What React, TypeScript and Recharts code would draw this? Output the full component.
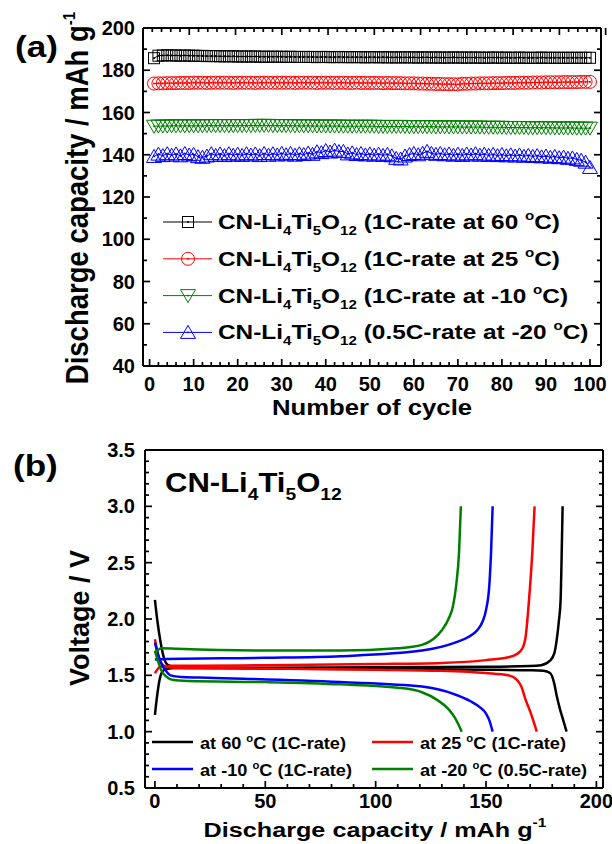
import React from "react";
import { LineChart, Line, XAxis, YAxis, Legend, Customized } from "recharts";

const FONT = "'Liberation Sans', Arial, Helvetica, sans-serif";
const SX = 1.17; // the figure is stretched a bit horizontally

// ---------- panel (a): cycling ----------
const cycles = Array.from({ length: 100 }, (_, i) => i + 1);

const cap60 = [
  185.7, 186.9, 187.0, 187.1, 187.0, 187.0, 186.9, 187.0, 186.9, 186.9,
  186.8, 186.8, 186.7, 186.7, 186.7, 186.6, 186.6, 186.6, 186.6, 186.5,
  186.5, 186.5, 186.5, 186.5, 186.4, 186.4, 186.4, 186.4, 186.4, 186.4,
  186.3, 186.4, 186.3, 186.3, 186.3, 186.3, 186.3, 186.2, 186.3, 186.3,
  186.2, 186.2, 186.3, 186.2, 186.2, 186.2, 186.2, 186.2, 186.1, 186.2,
  186.2, 186.1, 186.2, 186.1, 186.1, 186.1, 186.1, 186.1, 186.1, 186.1,
  186.0, 186.1, 186.1, 186.0, 186.1, 186.0, 186.0, 186.0, 186.1, 186.0,
  186.0, 186.0, 186.0, 186.0, 186.0, 185.9, 186.0, 186.0, 186.0, 185.9,
  186.0, 185.9, 185.9, 186.0, 185.9, 185.9, 185.9, 185.9, 186.0, 185.9,
  185.9, 185.9, 185.9, 185.9, 185.9, 185.9, 185.9, 185.9, 185.9, 185.9,
];

const cap25 = [
  173.7, 173.8, 173.8, 173.9, 173.9, 173.9, 174.0, 174.0, 174.0, 174.1,
  174.1, 174.1, 174.0, 174.1, 174.1, 174.1, 174.1, 174.1, 174.0, 174.1,
  174.1, 174.1, 174.1, 174.0, 174.1, 174.1, 174.1, 174.1, 174.1, 174.1,
  174.1, 174.1, 174.0, 174.1, 174.1, 174.1, 174.1, 174.0, 174.1, 174.1,
  174.1, 174.0, 174.1, 174.1, 174.0, 174.0, 174.1, 174.0, 174.0, 174.0,
  174.0, 174.0, 173.9, 174.0, 173.9, 173.9, 173.9, 173.8, 173.8, 173.8,
  173.7, 173.7, 173.6, 173.6, 173.5, 173.5, 173.4, 173.4, 173.4, 173.3,
  173.6, 173.6, 173.7, 173.7, 173.8, 173.8, 173.8, 173.9, 173.9, 173.9,
  174.0, 174.0, 174.0, 174.1, 174.1, 174.1, 174.2, 174.2, 174.2, 174.3,
  174.3, 174.3, 174.3, 174.4, 174.4, 174.4, 174.4, 174.5, 174.5, 174.5,
];

const capM10 = [
  153.5, 153.6, 153.6, 153.6, 153.7, 153.7, 153.7, 153.7, 153.7, 153.7,
  153.7, 153.7, 153.8, 153.8, 153.8, 153.8, 153.8, 153.8, 153.8, 153.8,
  153.8, 153.8, 153.8, 153.9, 153.9, 153.9, 153.9, 153.8, 153.8, 153.8,
  153.8, 153.8, 153.7, 153.7, 153.7, 153.7, 153.7, 153.6, 153.6, 153.6,
  153.6, 153.6, 153.6, 153.5, 153.5, 153.5, 153.5, 153.5, 153.5, 153.5,
  153.5, 153.4, 153.4, 153.4, 153.4, 153.4, 153.4, 153.4, 153.3, 153.3,
  153.3, 153.3, 153.3, 153.3, 153.2, 153.2, 153.2, 153.2, 153.2, 153.2,
  153.1, 153.1, 153.1, 153.1, 153.1, 153.0, 153.0, 153.0, 153.0, 153.0,
  152.9, 152.9, 152.9, 152.9, 152.9, 152.8, 152.8, 152.8, 152.8, 152.8,
  152.8, 152.7, 152.7, 152.7, 152.7, 152.7, 152.6, 152.6, 152.6, 152.6,
];

const capM20 = [
  139.2, 140.3, 139.6, 140.5, 139.8, 140.4, 139.5, 140.6, 139.9, 140.2,
  139.1, 138.8, 139.4, 140.5, 139.7, 140.4, 139.6, 140.5, 139.8, 140.3,
  139.7, 140.5, 139.9, 140.4, 139.6, 140.6, 139.8, 140.5, 139.9, 140.7,
  140.0, 140.6, 139.8, 140.5, 140.1, 140.8, 140.2, 141.4, 141.0, 142.0,
  141.3, 142.2, 141.5, 141.6, 140.4, 140.9, 140.1, 140.6, 139.9, 140.4,
  139.8, 140.3, 139.7, 140.2, 139.5, 138.3, 138.0, 139.4, 140.1, 140.6,
  140.0, 140.7, 141.6, 140.7, 140.2, 140.6, 140.0, 140.4, 139.8, 140.3,
  139.7, 140.4, 139.9, 140.5, 139.8, 140.3, 139.7, 140.2, 139.6, 140.1,
  139.5, 140.0, 139.4, 139.9, 139.3, 139.7, 139.2, 139.6, 139.0, 139.4,
  138.8, 139.2, 138.6, 138.9, 138.3, 138.5, 137.8, 137.4, 136.5, 134.0,
];

const xMajorA = [0, 10, 20, 30, 40, 50, 60, 70, 80, 90, 100];
const yMajorA = [40, 60, 80, 100, 120, 140, 160, 180, 200];
const xTicksA = Array.from({ length: 51 }, (_, i) => i * 2);
const yTicksA = Array.from({ length: 17 }, (_, i) => 40 + i * 10);

const seriesA = [
  { key: "s60", color: "#000000", shape: "square", temp: "60", rate: "1C" },
  { key: "s25", color: "#ff0000", shape: "circle", temp: "25", rate: "1C" },
  { key: "sm10", color: "#008000", shape: "down", temp: "-10", rate: "1C" },
  { key: "sm20", color: "#0000ff", shape: "up", temp: "-20", rate: "0.5C" },
];

const rowsA = cycles.map((c, i) => ({
  cycle: c,
  s60: cap60[i],
  s25: cap25[i],
  sm10: capM10[i],
  sm20: capM20[i],
}));

// ---------- panel (b): discharge/charge profiles [capacity, voltage] ----------
const dis60 = [[0, 2.17], [1, 2.0], [2.5, 1.8], [4, 1.66], [6, 1.59], [10, 1.57], [20, 1.565], [50, 1.56], [100, 1.555], [150, 1.55], [170, 1.545], [176, 1.54], [179, 1.52], [181, 1.42], [182, 1.32], [183.5, 1.2], [185, 1.1], [186.5, 1.0]];
const chg60 = [[0, 1.15], [1, 1.32], [2, 1.45], [3, 1.52], [5, 1.555], [10, 1.565], [50, 1.568], [100, 1.572], [150, 1.576], [170, 1.582], [175, 1.59], [179, 1.63], [181, 1.7], [182, 1.81], [183, 1.98], [183.8, 2.17], [184.2, 2.5], [184.7, 3.0]];
const dis25 = [[0, 1.82], [1, 1.72], [2.5, 1.62], [5, 1.575], [10, 1.565], [50, 1.56], [100, 1.55], [130, 1.54], [150, 1.52], [160, 1.5], [164, 1.46], [166, 1.4], [168, 1.28], [170, 1.18], [173, 1.0]];
const chg25 = [[0, 1.52], [1, 1.55], [2, 1.57], [4, 1.58], [8, 1.585], [20, 1.585], [50, 1.59], [100, 1.6], [130, 1.61], [150, 1.635], [160, 1.66], [164, 1.69], [166.5, 1.74], [168, 1.85], [169, 2.05], [170, 2.3], [171, 2.6], [172, 3.0]];
const disM10 = [[0, 1.79], [1.5, 1.68], [3, 1.6], [5, 1.54], [7, 1.5], [12, 1.485], [20, 1.48], [40, 1.47], [84, 1.44], [121, 1.4], [136, 1.33], [143, 1.27], [147, 1.22], [150, 1.16], [151.5, 1.1], [153, 1.0]];
const chgM10 = [[0, 1.64], [5, 1.645], [50, 1.655], [84, 1.67], [121, 1.72], [136, 1.79], [142, 1.84], [146, 1.9], [148.5, 1.98], [150, 2.08], [151.5, 2.3], [152.3, 2.6], [153, 3.0]];
const disM20 = [[0, 1.72], [1.5, 1.62], [3, 1.54], [5, 1.49], [8, 1.46], [15, 1.45], [50, 1.44], [84, 1.42], [110, 1.39], [121, 1.35], [128, 1.28], [133, 1.2], [136, 1.12], [139, 1.0]];
const chgM20 = [[0, 1.7], [3, 1.74], [10, 1.735], [50, 1.72], [84, 1.72], [110, 1.74], [121, 1.77], [126, 1.82], [130, 1.9], [133, 2.0], [135, 2.11], [136.5, 2.3], [137.8, 2.6], [138.6, 3.0]];

const curvesB = [
  { id: "d60", pts: dis60, color: "#000000" },
  { id: "c60", pts: chg60, color: "#000000" },
  { id: "d25", pts: dis25, color: "#ff0000" },
  { id: "c25", pts: chg25, color: "#ff0000" },
  { id: "dm10", pts: disM10, color: "#0000ff" },
  { id: "cm10", pts: chgM10, color: "#0000ff" },
  { id: "dm20", pts: disM20, color: "#008000" },
  { id: "cm20", pts: chgM20, color: "#008000" },
];

const legendB = [
  { label: "60", rate: "1C", color: "#000000" },
  { label: "25", rate: "1C", color: "#ff0000" },
  { label: "-10", rate: "1C", color: "#0000ff" },
  { label: "-20", rate: "0.5C", color: "#008000" },
];

const xMajorB = [0, 50, 100, 150, 200];
const yMajorB = [0.5, 1.0, 1.5, 2.0, 2.5, 3.0, 3.5];
const xTicksB = Array.from({ length: 21 }, (_, i) => i * 10);
const yTicksB = Array.from({ length: 31 }, (_, i) => Math.round((0.5 + i * 0.1) * 10) / 10);

// ---------- helpers ----------
type Side = "bottom" | "top" | "left" | "right";
const TICK_FS = 20;

function makeTick(side: Side, majors: number[], showLabel: boolean, fmt: (v: number) => string, lblOff: number) {
  return (props: any) => {
    const { x, y, payload } = props;
    const v = payload.value as number;
    const major = majors.some((m) => Math.abs(m - v) < 1e-6);
    const len = major ? 7 : 4;
    let l = { x1: x, y1: y, x2: x, y2: y };
    if (side === "bottom") l.y2 = y - len;
    if (side === "top") l.y2 = y + len;
    if (side === "left") l.x2 = x + len;
    if (side === "right") l.x2 = x - len;
    return (
      <g>
        <line {...l} stroke="#000" strokeWidth={1.7} />
        {showLabel && major && side === "bottom" && (
          <text x={x} y={y + lblOff} textAnchor="middle" fontFamily={FONT} fontWeight="bold" fontSize={TICK_FS} fill="#000">
            {fmt(v)}
          </text>
        )}
        {showLabel && major && side === "left" && (
          <text x={x - lblOff} y={y + 7} textAnchor="end" fontFamily={FONT} fontWeight="bold" fontSize={TICK_FS} fill="#000">
            {fmt(v)}
          </text>
        )}
      </g>
    );
  };
}

function SText({ x, y, fs, anchor = "start", sx = SX, children }: any) {
  return (
    <text
      transform={`translate(${x} ${y}) scale(${sx} 1)`}
      textAnchor={anchor}
      fontFamily={FONT}
      fontWeight="bold"
      fontSize={fs}
      fill="#000"
      style={{ whiteSpace: "pre" }}
    >
      {children}
    </text>
  );
}

function LTO({ fs }: { fs: number }) {
  const sub = fs * 0.62;
  const d = fs * 0.3;
  return (
    <>
      <tspan>CN-Li</tspan>
      <tspan fontSize={sub} dy={d}>4</tspan>
      <tspan dy={-d}>Ti</tspan>
      <tspan fontSize={sub} dy={d}>5</tspan>
      <tspan dy={-d}>O</tspan>
      <tspan fontSize={sub} dy={d}>12</tspan>
    </>
  );
}

function Marker({ cx, cy, shape, color }: any) {
  if (cx == null || cy == null) return null;
  let body;
  if (shape === "square") body = <rect x={cx - 5.5} y={cy - 5.5} width={11} height={11} />;
  else if (shape === "circle") body = <circle cx={cx} cy={cy} r={6.5} />;
  else if (shape === "down") body = <polygon points={`${cx - 7.5},${cy - 6} ${cx + 7.5},${cy - 6} ${cx},${cy + 7}`} />;
  else body = <polygon points={`${cx - 7.5},${cy + 6} ${cx + 7.5},${cy + 6} ${cx},${cy - 7}`} />;
  return (
    <g stroke={color} strokeWidth={1} fill="none">
      {body}
      <circle cx={cx} cy={cy} r={0.6} fill={color} />
    </g>
  );
}

const axisLine = { stroke: "#000", strokeWidth: 2 };

// ---------- panel (a) ----------
function TitlesA() {
  return (
    <g>
      <SText x={15} y={57} fs={30}>(a)</SText>
      <SText x={372} y={415} fs={22} anchor="middle">Number of cycle</SText>
      <text
        transform="translate(88 198) rotate(-90) scale(1 1.15)"
        textAnchor="middle"
        fontFamily={FONT}
        fontWeight="bold"
        fontSize={27.5}
        style={{ whiteSpace: "pre" }}
      >
        Discharge capacity / mAh g<tspan fontSize={15} dy={-11}>-1</tspan>
      </text>
    </g>
  );
}

function LegendA() {
  const fs = 20;
  const sub = fs * 0.62;
  return (
    <svg width={450} height={150} style={{ overflow: "visible" }}>
      {seriesA.map((s, i) => {
        const base = 24 + i * 36.8;
        const ly = base - 7;
        return (
          <g key={s.key}>
            <line x1={3} x2={52} y1={ly} y2={ly} stroke={s.color} strokeWidth={1} />
            <Marker cx={28} cy={ly} shape={s.shape} color={s.color} />
            <SText x={58} y={base} fs={fs} sx={1.22}>
              <LTO fs={fs} />
              <tspan dy={-fs * 0.3}>{` (${s.rate}-rate at ${s.temp} `}</tspan>
              <tspan fontSize={sub} dy={-fs * 0.45}>o</tspan>
              <tspan dy={fs * 0.45}>C)</tspan>
            </SText>
          </g>
        );
      })}
    </svg>
  );
}

function ChartA() {
  return (
    <LineChart width={612} height={425} data={rowsA} margin={{ top: 26, right: 9, bottom: 29, left: 83 }}>
      <XAxis
        dataKey="cycle"
        type="number"
        domain={[-1.5, 102.5]}
        allowDataOverflow
        ticks={xTicksA}
        interval={0}
        tickSize={0}
        tickMargin={0}
        tickLine={false}
        height={30}
        axisLine={axisLine}
        tick={makeTick("bottom", xMajorA, true, (v) => String(v), 25)}
      />
      <XAxis
        xAxisId="top"
        orientation="top"
        type="number"
        domain={[-1.5, 102.5]}
        allowDataOverflow
        ticks={xTicksA}
        interval={0}
        tickSize={0}
        tickMargin={0}
        tickLine={false}
        height={2}
        axisLine={axisLine}
        tick={makeTick("top", xMajorA, false, String, 0)}
      />
      <YAxis
        type="number"
        domain={[40, 200]}
        allowDataOverflow
        ticks={yTicksA}
        interval={0}
        tickSize={0}
        tickMargin={0}
        tickLine={false}
        width={60}
        axisLine={axisLine}
        tick={makeTick("left", yMajorA, true, (v) => String(v), 8)}
      />
      <YAxis
        yAxisId="right"
        orientation="right"
        type="number"
        domain={[40, 200]}
        allowDataOverflow
        ticks={yTicksA}
        interval={0}
        tickSize={0}
        tickMargin={0}
        tickLine={false}
        width={2}
        axisLine={axisLine}
        tick={makeTick("right", yMajorA, false, String, 0)}
      />
      {seriesA.map((s) => (
        <Line
          key={s.key}
          dataKey={s.key}
          stroke={s.color}
          strokeWidth={1}
          isAnimationActive={false}
          activeDot={false}
          dot={(p: any) => <Marker key={`${s.key}-${p.index}`} cx={p.cx} cy={p.cy} shape={s.shape} color={s.color} />}
        />
      ))}
      <Legend
        layout="vertical"
        align="center"
        verticalAlign="middle"
        wrapperStyle={{ left: 160, top: 205, width: 450, height: 150 }}
        content={() => <LegendA />}
      />
      <Customized component={TitlesA} />
    </LineChart>
  );
}

// ---------- panel (b) ----------
function TitlesB() {
  return (
    <g>
      <SText x={13} y={56} fs={30}>(b)</SText>
      <SText x={165} y={72} fs={27} sx={1.15}>
        <LTO fs={27} />
      </SText>
      <SText x={375} y={417} fs={21} anchor="middle" sx={1.2}>
        Discharge capacity / mAh g<tspan fontSize={13} dy={-10}>-1</tspan>
      </SText>
      <text
        transform="translate(89 198) rotate(-90)"
        textAnchor="middle"
        fontFamily={FONT}
        fontWeight="bold"
        fontSize={27}
        style={{ whiteSpace: "pre" }}
      >
        Voltage / V
      </text>
    </g>
  );
}

function LegendB() {
  const fs = 16.5;
  const sub = fs * 0.62;
  return (
    <svg width={460} height={60} style={{ overflow: "visible" }}>
      {legendB.map((s, i) => {
        const col = i % 2;
        const row = Math.floor(i / 2);
        const x0 = col === 0 ? 7 : 227;
        const base = 19 + row * 27;
        return (
          <g key={s.label}>
            <line x1={x0} x2={x0 + 41} y1={base - 7} y2={base - 7} stroke={s.color} strokeWidth={2.5} />
            <SText x={x0 + 48} y={base} fs={fs} sx={1.1}>
              {`at ${s.label} `}
              <tspan fontSize={sub} dy={-fs * 0.45}>o</tspan>
              <tspan dy={fs * 0.45}>{`C (${s.rate}-rate)`}</tspan>
            </SText>
          </g>
        );
      })}
    </svg>
  );
}

function ChartB() {
  return (
    <LineChart width={612} height={424} margin={{ top: 28, right: 7, bottom: 26, left: 85 }}>
      <XAxis
        dataKey="c"
        type="number"
        domain={[-4.5, 203]}
        allowDataOverflow
        ticks={xTicksB}
        interval={0}
        tickSize={0}
        tickMargin={0}
        tickLine={false}
        height={30}
        axisLine={axisLine}
        tick={makeTick("bottom", xMajorB, true, (v) => String(v), 20)}
      />
      <XAxis
        xAxisId="top"
        orientation="top"
        type="number"
        domain={[-4.5, 203]}
        allowDataOverflow
        ticks={xTicksB}
        interval={0}
        tickSize={0}
        tickMargin={0}
        tickLine={false}
        height={2}
        axisLine={axisLine}
        tick={makeTick("top", xMajorB, false, String, 0)}
      />
      <YAxis
        type="number"
        domain={[0.5, 3.5]}
        allowDataOverflow
        ticks={yTicksB}
        interval={0}
        tickSize={0}
        tickMargin={0}
        tickLine={false}
        width={60}
        axisLine={axisLine}
        tick={makeTick("left", yMajorB, true, (v) => v.toFixed(1), 10)}
      />
      <YAxis
        yAxisId="right"
        orientation="right"
        type="number"
        domain={[0.5, 3.5]}
        allowDataOverflow
        ticks={yTicksB}
        interval={0}
        tickSize={0}
        tickMargin={0}
        tickLine={false}
        width={2}
        axisLine={axisLine}
        tick={makeTick("right", yMajorB, false, String, 0)}
      />
      {curvesB.map((cv) => (
        <Line
          key={cv.id}
          data={cv.pts.map(([c, v]) => ({ c, v }))}
          dataKey="v"
          type="monotone"
          stroke={cv.color}
          strokeWidth={2.5}
          dot={false}
          activeDot={false}
          isAnimationActive={false}
        />
      ))}
      <Legend
        layout="vertical"
        align="center"
        verticalAlign="middle"
        wrapperStyle={{ left: 145, top: 310, width: 460, height: 60 }}
        content={() => <LegendB />}
      />
      <Customized component={TitlesB} />
    </LineChart>
  );
}

export default function App() {
  return (
    <div style={{ position: "absolute", left: 0, top: 0, width: 612, height: 844, background: "#fff" }}>
      <div style={{ position: "absolute", left: 0, top: 0 }}>
        <ChartA />
      </div>
      <div style={{ position: "absolute", left: 0, top: 420 }}>
        <ChartB />
      </div>
    </div>
  );
}
